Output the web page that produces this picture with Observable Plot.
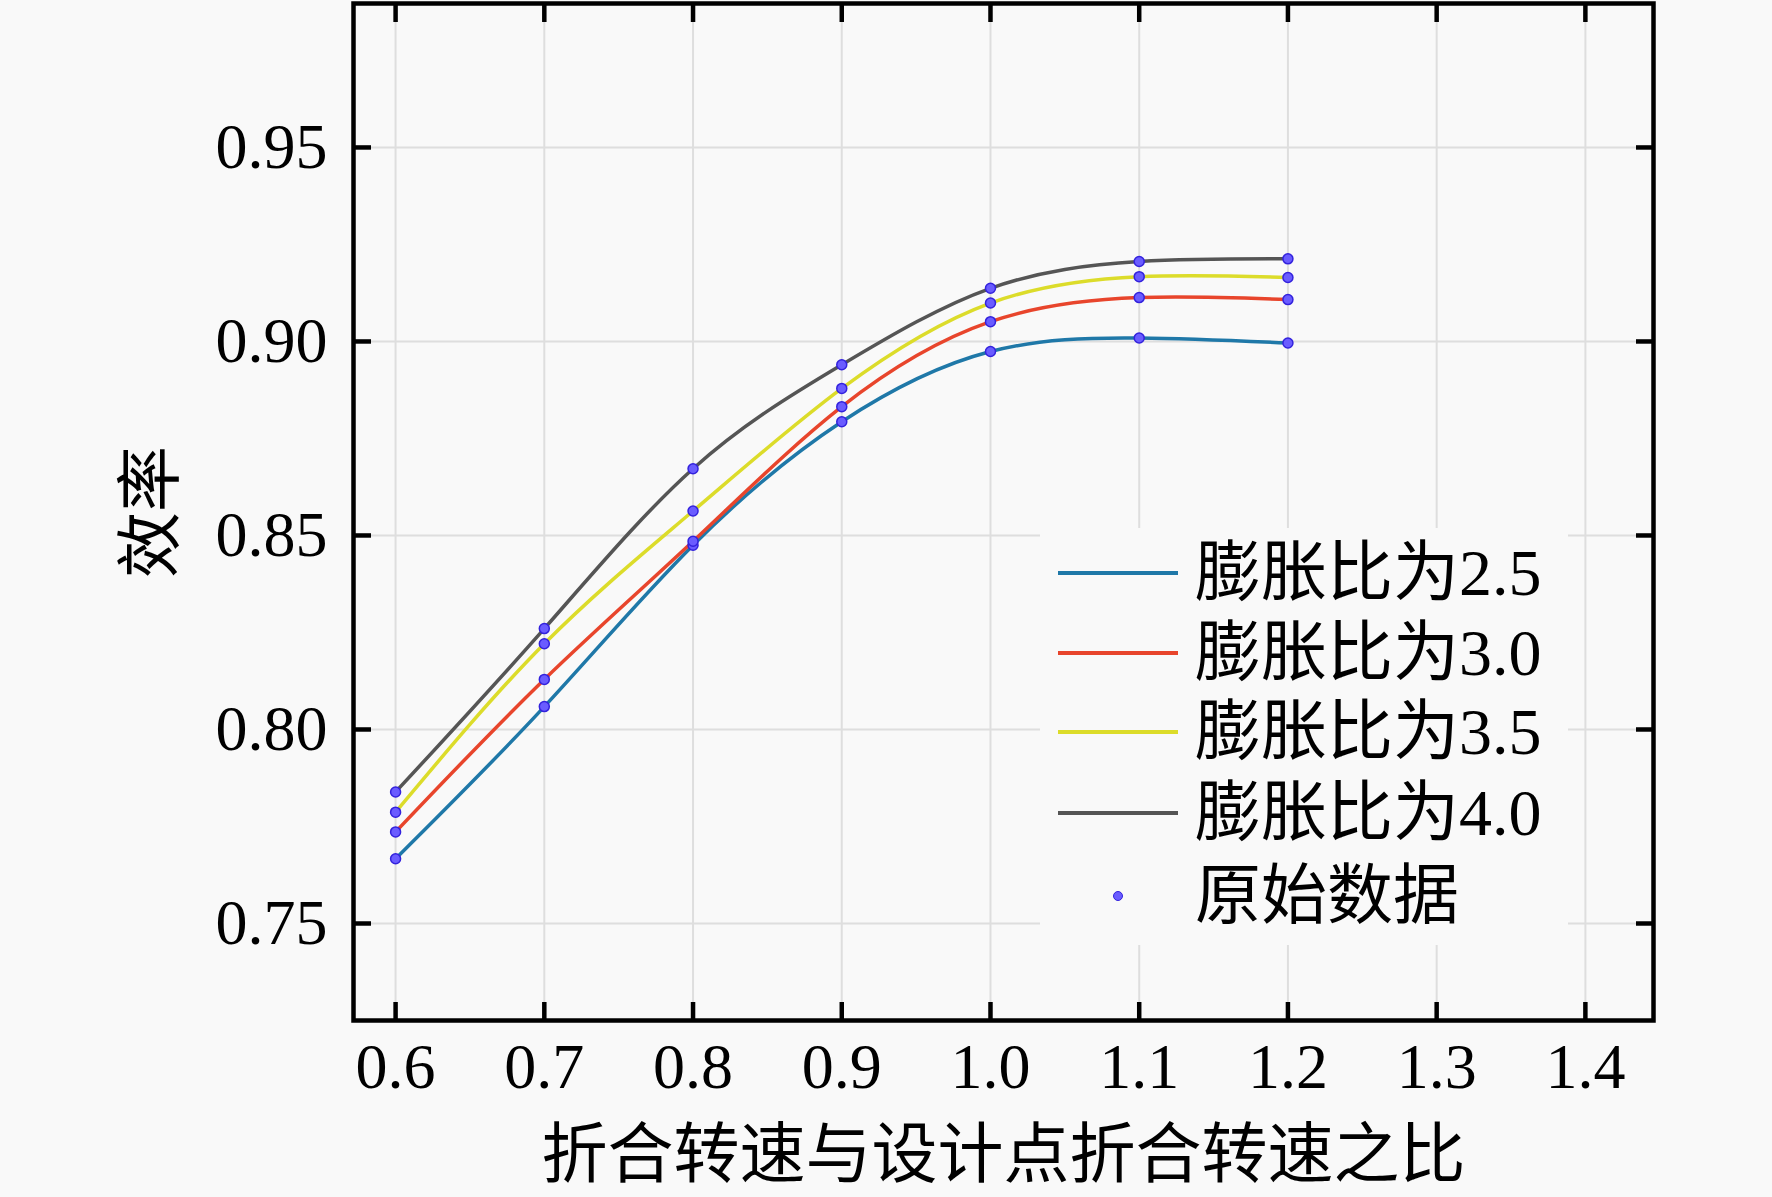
<!DOCTYPE html>
<html><head><meta charset="utf-8">
<script src="https://cdn.jsdelivr.net/npm/d3@7"></script>
<script src="https://cdn.jsdelivr.net/npm/@observablehq/plot@0.6"></script>
<style>
html,body{margin:0;padding:0;background:#f9f9f9;}
#wrap{position:relative;width:1772px;height:1197px;}
#legend{position:absolute;left:1040px;top:528px;width:528px;height:417px;background:#f9f9f9;
  font-family:"Liberation Serif","Noto Sans CJK SC",serif;font-size:66px;color:#000;}
.row{position:absolute;left:0;width:528px;height:80px;}
.sw{position:absolute;left:18px;top:38px;width:120px;height:3.5px;}
.dotsw{position:absolute;left:73px;top:35px;width:8px;height:8px;border-radius:50%;background:#6a5cff;border:1.5px solid #3322dd;}
.lab{position:absolute;left:155px;top:0;height:80px;line-height:80px;white-space:nowrap;}
</style></head>
<body><div id="wrap"><div id="chart"></div><div id="legend"></div></div>
<script>
const xValues = [0.6, 0.7, 0.8, 0.9, 1.0, 1.1, 1.2];
const eff25 = [0.7667, 0.8059, 0.8475, 0.8793, 0.8974, 0.9009, 0.8996];
const eff30 = [0.7736, 0.8129, 0.8485, 0.8832, 0.9051, 0.9113, 0.9108];
const eff35 = [0.7787, 0.8221, 0.8563, 0.8879, 0.9099, 0.9167, 0.9165];
const eff40 = [0.7839, 0.8260, 0.8672, 0.8940, 0.9137, 0.9206, 0.9213];
const seriesNames = ["膨胀比为2.5", "膨胀比为3.0", "膨胀比为3.5", "膨胀比为4.0"];
const seriesColors = ["#1f78a8", "#e8452c", "#dcdc2a", "#555555"];
const pointLabel = "原始数据";
const xTicks = [0.6, 0.7, 0.8, 0.9, 1.0, 1.1, 1.2, 1.3, 1.4];
const yTicks = [0.75, 0.80, 0.85, 0.90, 0.95];
const xLabel = "折合转速与设计点折合转速之比";
const yLabel = "效率";

const seriesValues = [eff25, eff30, eff35, eff40];
const table = [];
seriesValues.forEach((vals, si) => vals.forEach((v, i) => table.push({series: seriesNames[si], x: xValues[i], y: v})));

const font = '"Liberation Serif","Noto Sans CJK SC",serif';
const chart = Plot.plot({
  width: 1772, height: 1197,
  marginLeft: 353, marginRight: 119, marginTop: 3, marginBottom: 177,
  style: {background: "#f9f9f9", fontFamily: font, fontSize: "64px", color: "#000"},
  x: {domain: [0.5717, 1.4458]},
  y: {domain: [0.725, 0.9871]},
  color: {domain: seriesNames, range: seriesColors},
  marks: [
    Plot.gridX(xTicks, {stroke: "#dedede", strokeOpacity: 1, strokeWidth: 2}),
    Plot.gridY(yTicks, {stroke: "#dedede", strokeOpacity: 1, strokeWidth: 2}),
    Plot.line(table, {x: "x", y: "y", z: "series", stroke: "series", strokeWidth: 3.5, curve: "natural"}),
    Plot.dot(table, {x: "x", y: "y", r: 5, fill: "#6a5cff", stroke: "#3322dd", strokeWidth: 1.5}),
    Plot.axisX({ticks: xTicks, anchor: "bottom", tickSize: -18, tickPadding: 40, tickFormat: d3.format(".1f"), strokeWidth: 4.5, label: null, fontSize: 64}),
    Plot.axisX({ticks: xTicks, anchor: "top", tickSize: -18, tickFormat: () => "", strokeWidth: 4.5, label: null}),
    Plot.axisY({ticks: yTicks, anchor: "left", tickSize: -18, tickPadding: 44, tickFormat: d3.format(".2f"), strokeWidth: 4.5, label: null, fontSize: 64}),
    Plot.axisY({ticks: yTicks, anchor: "right", tickSize: -18, tickFormat: () => "", strokeWidth: 4.5, label: null}),
    Plot.frame({stroke: "#000", strokeWidth: 4.5}),
    Plot.text([xLabel], {text: d => d, frameAnchor: "bottom", dy: 135, fontSize: 66, lineAnchor: "middle", textAnchor: "middle"}),
    Plot.text([yLabel], {text: d => d, frameAnchor: "left", dx: -202, rotate: -90, fontSize: 66, lineAnchor: "middle", textAnchor: "middle"})
  ]
});
document.getElementById("chart").appendChild(chart);

const legend = document.getElementById("legend");
const rowCenters = [45, 125, 204, 285];
seriesNames.forEach((name, i) => {
  const row = document.createElement("div");
  row.className = "row";
  row.style.top = (rowCenters[i] - 40) + "px";
  row.innerHTML = `<div class="sw" style="background:${seriesColors[i]}"></div><div class="lab">${name}</div>`;
  legend.appendChild(row);
});
const prow = document.createElement("div");
prow.className = "row";
prow.style.top = (368 - 40) + "px";
prow.innerHTML = `<div class="dotsw"></div><div class="lab">${pointLabel}</div>`;
legend.appendChild(prow);
</script></body></html>
